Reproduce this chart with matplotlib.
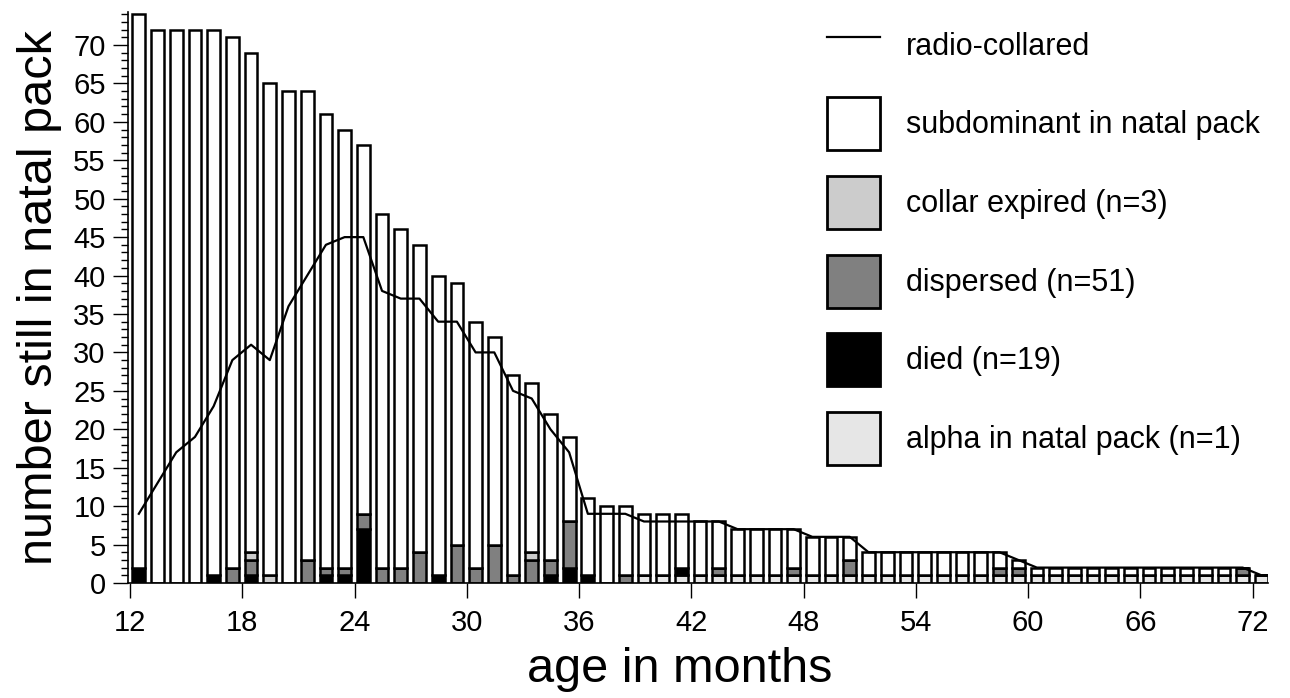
import numpy as np
import matplotlib.pyplot as plt
from matplotlib.lines import Line2D
from matplotlib.patches import Patch
from matplotlib.ticker import MultipleLocator

plt.rcParams['font.family'] = ['Liberation Sans', 'DejaVu Sans']

months = np.arange(12, 73)

# number still in natal pack (top of each bar), months 12..72
in_pack = [74, 72, 72, 72, 72, 71, 69, 65, 64, 64, 61, 59, 57,
           48, 46, 44, 40, 39, 34, 32, 27, 26, 22, 19, 11,
           10, 10, 9, 9, 9, 8, 8, 7, 7, 7, 7, 6, 6, 6,
           4, 4, 4, 4, 4, 4, 4, 4, 3,
           2, 2, 2, 2, 2, 2, 2, 2, 2, 2, 2, 2, 1]

# radio-collared animals, months 12..72
radio_collared = [9, 13, 17, 19, 23, 29, 31, 29, 36, 40, 44, 45, 45,
                  38, 37, 37, 34, 34, 30, 30, 25, 24, 20, 17, 9,
                  9, 9, 8, 8, 8, 8, 8, 7, 7, 7, 7, 6, 6, 6,
                  4, 4, 4, 4, 4, 4, 4, 4, 3,
                  2, 2, 2, 2, 2, 2, 2, 2, 2, 2, 2, 2, 1]

# events per month {month: count}
died = {12: 2, 16: 1, 18: 1, 22: 1, 23: 1, 24: 7, 28: 1, 34: 1, 35: 2, 36: 1, 41: 1}
dispersed = {17: 2, 18: 2, 21: 3, 22: 1, 23: 1, 24: 2, 25: 2, 26: 2, 27: 4,
             29: 5, 30: 2, 31: 5, 32: 1, 33: 3, 34: 2, 35: 6, 38: 1, 43: 1,
             47: 1, 50: 2, 58: 1, 59: 1, 71: 1}
collar_expired = {18: 1, 19: 1, 33: 1}
alpha = {m: 1 for m in range(39, 73)}


def to_array(d):
    return np.array([d.get(m, 0) for m in months])


alpha_a = to_array(alpha)
died_a = to_array(died)
disp_a = to_array(dispersed)
coll_a = to_array(collar_expired)
sub_a = np.array(in_pack) - alpha_a - died_a - disp_a - coll_a

fig = plt.figure(figsize=(12.9, 6.98), dpi=100)
ax = fig.add_axes([0.0992, 0.1648, 0.8837, 0.8181])

x = months + 0.47
w = 0.68
bar_kw = dict(width=w, edgecolor='black', linewidth=1.8)
bottom = np.zeros(len(months))
for vals, col in [(alpha_a, '#e6e6e6'), (died_a, 'black'), (disp_a, '#808080'),
                  (coll_a, '#cccccc'), (sub_a, 'white')]:
    ax.bar(x, vals, bottom=bottom, color=col, **bar_kw)
    bottom = bottom + vals

ax.plot(x, radio_collared, color='black', linewidth=1.6, zorder=5)

ax.set_xlim(11.89, 72.82)
ax.set_ylim(0, 74.3)
ax.set_xticks(range(12, 73, 6))
ax.yaxis.set_major_locator(MultipleLocator(5))
ax.yaxis.set_minor_locator(MultipleLocator(1))
ax.set_yticks(range(0, 71, 5))
ax.tick_params(axis='both', which='major', direction='out', length=11,
               width=1, labelsize=21, pad=5)
ax.tick_params(axis='x', which='major', pad=8)
ax.tick_params(axis='y', which='minor', direction='out', length=5, width=1)
for s in ['top', 'right']:
    ax.spines[s].set_visible(False)
for s in ['left', 'bottom']:
    ax.spines[s].set_linewidth(1.2)

ax.set_xlabel('age in months', fontsize=35)
ax.set_ylabel('number still in natal pack', fontsize=35)
ax.xaxis.set_label_coords(0.484, -0.113)
ax.yaxis.set_label_coords(-0.058, 0.5)

handles = [
    Line2D([], [], color='black', linewidth=1.6),
    Patch(facecolor='white', edgecolor='black', linewidth=2),
    Patch(facecolor='#cccccc', edgecolor='black', linewidth=2),
    Patch(facecolor='#808080', edgecolor='black', linewidth=2),
    Patch(facecolor='black', edgecolor='black', linewidth=2),
    Patch(facecolor='#e6e6e6', edgecolor='black', linewidth=2),
]
labels = ['radio-collared', 'subdominant in natal pack', 'collar expired (n=3)',
          'dispersed (n=51)', 'died (n=19)', 'alpha in natal pack (n=1)']
fig.legend(handles, labels, loc='upper left', bbox_to_anchor=(0.6411, 0.973),
           frameon=False, fontsize=22, handlelength=1.73, handleheight=2.29,
           labelspacing=0.84, handletextpad=0.85, borderpad=0, borderaxespad=0)

fig.savefig('out.png', dpi=100)
